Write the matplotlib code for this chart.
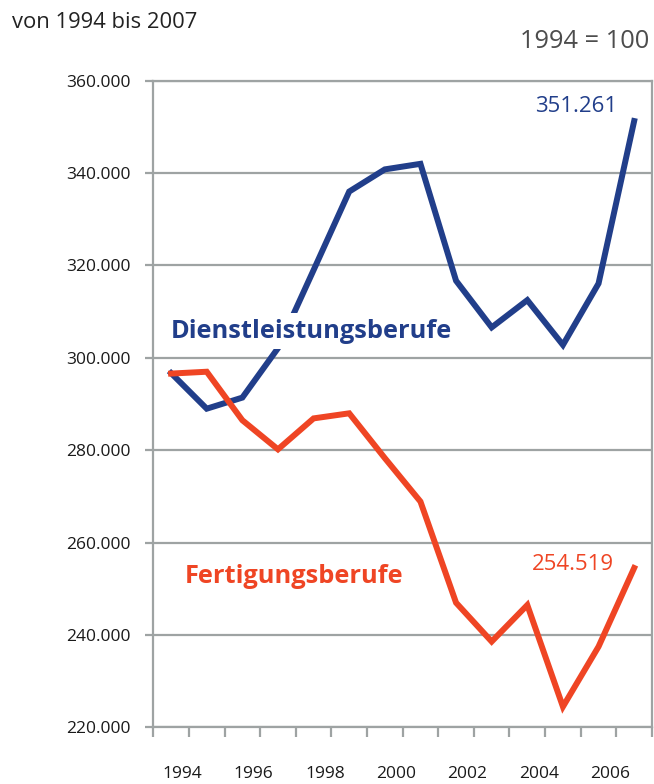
import numpy as np
import matplotlib
matplotlib.use('Agg')
import matplotlib.pyplot as plt

plt.rcParams['font.family'] = ['Open Sans', 'DejaVu Sans']

# data
years = list(range(1994, 2008))
dienst = [296.7, 289.0, 291.4, 302.1, 319.0, 336.0, 340.8, 342.0,
          316.7, 306.6, 312.5, 302.8, 316.1, 351.261]
fertig = [296.6, 297.0, 286.5, 280.2, 286.9, 288.0, 278.3, 268.9,
          247.0, 238.6, 246.5, 224.5, 237.5, 254.519]
yticks = [220, 240, 260, 280, 300, 320, 340, 360]
year_labels = [str(y) for y in years[::2]]

blue = '#213e8a'
red = '#ef4524'
grid = '#9ea3a3'

fig = plt.figure(figsize=(6.54, 7.84), dpi=100)
ax = fig.add_axes([0.2344, 0.0721, 0.7625, 0.825])

x = np.arange(len(years))
ax.plot(x, dienst, color=blue, lw=4.3, solid_joinstyle='miter', zorder=3)
ax.plot(x, fertig, color=red, lw=4.3, solid_joinstyle='miter', zorder=3)

ax.set_xlim(-0.5, len(years) - 0.5)
ax.set_ylim(220, 360)

# y axis
ax.set_yticks(yticks)
ax.set_yticklabels(['%d.000' % v for v in yticks], fontsize=12.5, color='#1a1a1a')
ax.yaxis.grid(True, color=grid, lw=1.6, zorder=1)
ax.tick_params(axis='y', length=5.8, width=1.6, color=grid, pad=10.5)

# x axis: boundary ticks, labels every other year
ax.set_xticks(np.arange(len(years) + 1) - 0.5, minor=True)
ax.set_xticks(x[::2] + 0.32)
ax.set_xticklabels(year_labels, fontsize=12.5, color='#1a1a1a')
ax.tick_params(axis='x', which='major', length=0, pad=28)
ax.tick_params(axis='x', which='minor', length=7.5, width=1.6, color=grid)

for s in ax.spines.values():
    s.set_color(grid)
    s.set_linewidth(1.6)
ax.set_axisbelow(True)

ax.text(3.95, 305.8, 'Dienstleistungsberufe', color=blue, fontsize=18.3,
        fontweight='bold', ha='center', va='center', zorder=4,
        bbox=dict(facecolor='white', edgecolor='none', pad=4))
ax.text(3.46, 252.6, 'Fertigungsberufe', color=red, fontsize=18.3,
        fontweight='bold', ha='center', va='center', zorder=4)
ax.text(11.36, 354.4, '351.261', color=blue, fontsize=16,
        ha='center', va='center', zorder=4)
ax.text(11.27, 255.2, '254.519', color=red, fontsize=16,
        ha='center', va='center', zorder=4)

fig.text(12.5 / 654, 1 - 23 / 784, 'von 1994 bis 2007', fontsize=15.8,
         color='#222222', ha='left', va='center')
fig.text(649 / 654, 1 - 41 / 784, '1994 = 100', fontsize=18.3,
         color='#4d4d4d', ha='right', va='center')

fig.savefig('out.png', dpi=100)
plt.close()
